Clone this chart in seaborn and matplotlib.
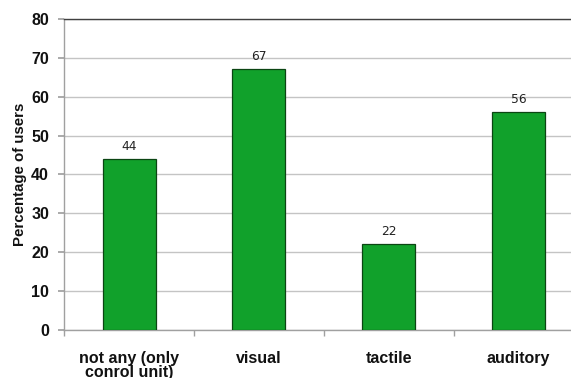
import matplotlib
matplotlib.use("Agg")
import matplotlib.pyplot as plt
import seaborn as sns
import pandas as pd
import numpy as np

categories = ["not any (only\nconrol unit)", "visual", "tactile", "auditory"]
percent_users = [44, 67, 22, 56]
y_ticks = [0, 10, 20, 30, 40, 50, 60, 70, 80]

sns.set_theme(style="white")
plt.rcParams["font.family"] = ["Liberation Sans", "DejaVu Sans"]

df = pd.DataFrame({"feedback": categories, "pct": percent_users})

fig = plt.figure(figsize=(5.71, 3.78), dpi=100)
ax = fig.add_axes([0.1125, 0.127, 0.909, 0.823])

sns.barplot(data=df, x="feedback", y="pct", color="#11a12b", saturation=1,
            width=0.41, edgecolor="#0b4513", linewidth=0.9, ax=ax, zorder=3)

ax.set_ylim(0, 80)
ax.set_xlim(-0.5, 3.5)
ax.set_yticks(y_ticks)
ax.yaxis.grid(True, color="#c4c4c4", linewidth=1.0, zorder=0)
ax.set_axisbelow(True)

ax.spines["right"].set_visible(False)
ax.spines["top"].set_color("#404040")
ax.spines["top"].set_linewidth(1.0)
ax.spines["left"].set_color("#a0a0a0")
ax.spines["bottom"].set_color("#a0a0a0")
ax.spines["left"].set_linewidth(1.0)
ax.spines["bottom"].set_linewidth(1.0)

ax.tick_params(axis="y", which="major", left=True, length=4, color="#a0a0a0",
               labelsize=11.5, pad=7)
ax.tick_params(axis="x", which="major", bottom=False, labelsize=11.5, pad=9)
ax.set_xticks(np.arange(-0.5, 4.0, 1.0), minor=True)
ax.tick_params(axis="x", which="minor", bottom=True, length=4, color="#a0a0a0")
for lab in ax.get_yticklabels() + ax.get_xticklabels():
    lab.set_fontweight("bold")
    lab.set_color("#111111")
for lab in ax.get_xticklabels():
    lab.set_linespacing(0.9)
    lab.set_verticalalignment("top")

ax.set_xlabel("")
ax.set_ylabel("Percentage of users", fontsize=10.8, fontweight="bold", color="#111111",
              labelpad=3)

for i, v in enumerate(percent_users):
    ax.text(i, v + 1.6, str(v), ha="center", va="bottom", fontsize=8.8,
            color="#222222", family=["DejaVu Sans"])

fig.savefig("out.png", dpi=100)
